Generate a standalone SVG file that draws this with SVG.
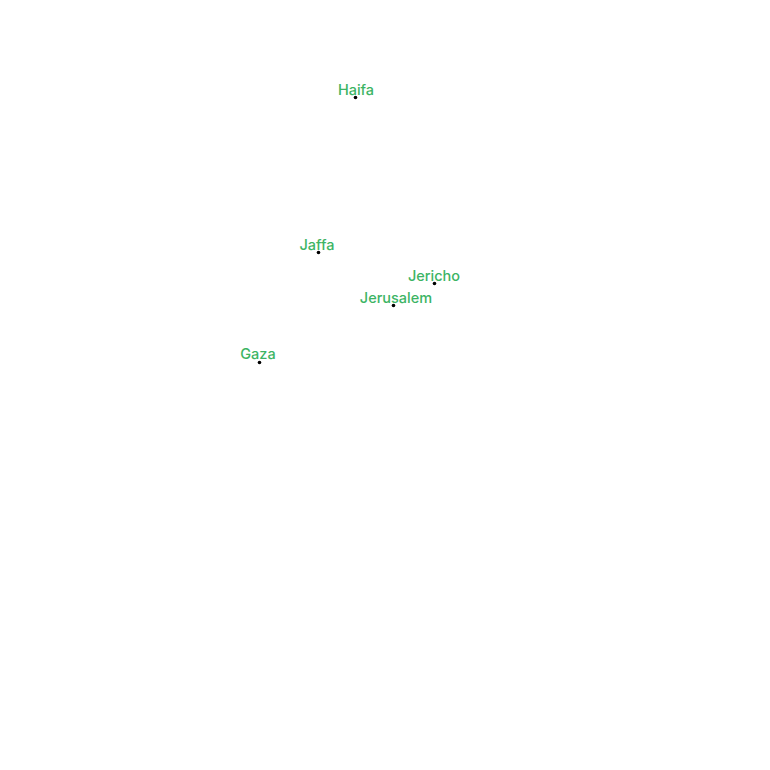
<svg xmlns="http://www.w3.org/2000/svg" width="770" height="770" viewBox="0 0 770 770">
<style>
.dot{fill:#000}
.lbl{font-family:Inter,"Liberation Sans",Arial,sans-serif;font-size:14.5px;font-weight:500;fill:#3cb464;text-anchor:middle}
</style>
<rect width="770" height="770" fill="#fff"/>
<g id="connectors"></g>
<g id="haifa"><circle class="dot" cx="355.5" cy="97.5" r="1.8"/><text class="lbl" x="356" y="95">Haifa</text></g>
<g id="jaffa"><circle class="dot" cx="318.5" cy="252.5" r="1.8"/><text class="lbl" x="317" y="250">Jaffa</text></g>
<g id="jericho"><circle class="dot" cx="434.5" cy="283.5" r="1.8"/><text class="lbl" x="434" y="281">Jericho</text></g>
<g id="jerusalem"><circle class="dot" cx="393.5" cy="305.5" r="1.8"/><text class="lbl" x="396" y="303">Jerusalem</text></g>
<g id="gaza"><circle class="dot" cx="259.5" cy="362.5" r="1.8"/><text class="lbl" x="258" y="359">Gaza</text></g>
</svg>
